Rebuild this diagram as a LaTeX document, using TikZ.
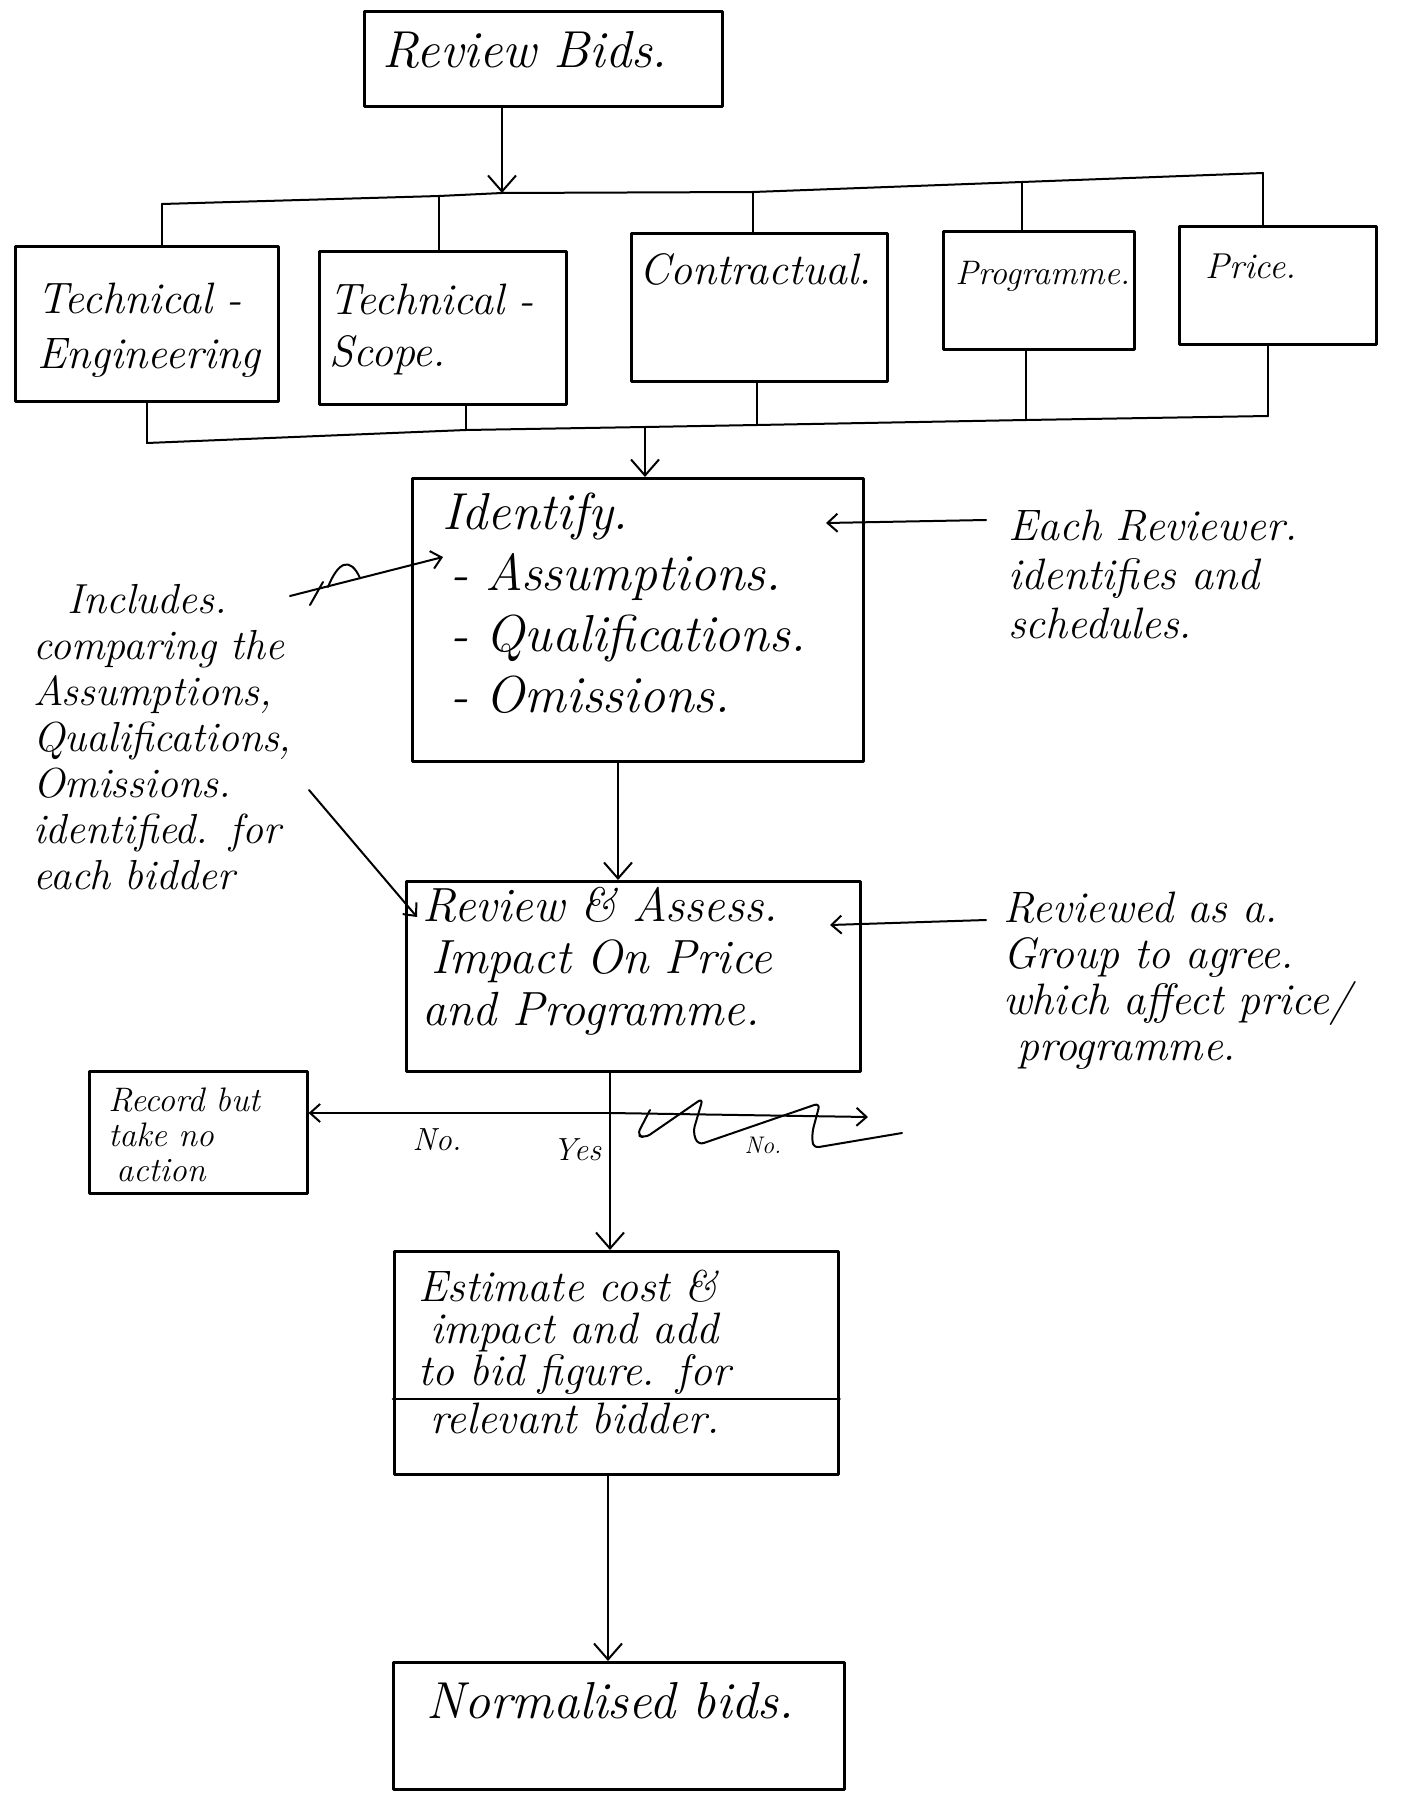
\documentclass[tikz,border=0pt]{standalone}
\usetikzlibrary{arrows.meta}
\newcommand\handfont[2]{\fontsize{#1}{#2}\selectfont\itshape}
\begin{document}
\begin{tikzpicture}[x=1pt,y=-1pt,line cap=round,line join=round,
  box/.style={draw, line width=2.6pt, anchor=north west, align=left, inner ysep=4pt},
  note/.style={anchor=north west, align=left, inner sep=0pt, text height=40pt},
  conn/.style={line width=2pt},
  arr/.style={conn, -{Straight Barb[length=16pt,width=28pt,line width=2pt]}},
  arrs/.style={conn, -{Straight Barb[length=10pt,width=18pt,line width=2pt]}},
  lbl/.style={inner sep=0pt}]
\useasboundingbox[fill=white] (0,0) rectangle (1405,1795);

% boxes
\node[box, inner xsep=18pt, text width=322pt, text height=52pt, text depth=35pt, font=\handfont{52}{60}] (rb) at (363,10) {\mbox{Review Bids.}};
\node[box, inner xsep=22pt, text width=219pt, text height=63pt, text depth=84pt, font=\handfont{44}{55}] (te) at (14,245) {\mbox{Technical -}\\\mbox{Engineering}};
\node[box, inner xsep=10pt, text width=227pt, text height=59pt, text depth=86pt, font=\handfont{44}{52}] (ts) at (318,250) {\mbox{Technical -}\\\mbox{Scope.}};
\node[box, inner xsep=8pt, text width=240pt, text height=47pt, text depth=93pt, font=\handfont{44}{50}] (ct) at (630,232) {\mbox{Contractual.}};
\node[box, inner xsep=12pt, text width=167pt, text height=49pt, text depth=61pt, font=\handfont{34}{40}] (pg) at (942,230) {\mbox{Programme.}};
\node[box, inner xsep=26pt, text width=145pt, text height=48pt, text depth=62pt, font=\handfont{36}{40}] (pr) at (1178,225) {\mbox{Price.}};
\node[box, inner xsep=30pt, text width=391pt, text height=47pt, text depth=228pt, font=\handfont{52}{61}] (id) at (411,477)
  {\mbox{Identify.}\\\hspace*{8pt}\mbox{- Assumptions.}\\\hspace*{8pt}\mbox{- Qualifications.}\\\hspace*{8pt}\mbox{- Omissions.}};
\node[box, inner xsep=16pt, text width=422pt, text height=36pt, text depth=146pt, font=\handfont{48}{52}] (ra) at (405,880)
  {\mbox{Review \& Assess.}\\\hspace*{9pt}\mbox{Impact On Price}\\\mbox{and Programme.}};
\node[box, inner xsep=19pt, text width=180pt, text height=36pt, text depth=78pt, font=\handfont{34}{35}] (rec) at (88,1070)
  {\mbox{Record but}\\\mbox{take no}\\\hspace*{8pt}\mbox{action}};
\node[box, inner xsep=24pt, text width=396pt, text height=46pt, text depth=169pt, font=\handfont{44}{42}] (est) at (393,1250)
  {\mbox{Estimate cost \&}\\\hspace*{12pt}\mbox{impact and add}\\\mbox{to bid figure. for}\\[6pt]\hspace*{12pt}\mbox{relevant bidder.}};
\node[box, inner xsep=33pt, text width=385pt, text height=52pt, text depth=67pt, font=\handfont{52}{60}] (nb) at (392,1661) {\mbox{Normalised bids.}};
\coordinate (dv) at (0,1399);
\draw[line width=2.6pt] (est.west |- dv) -- (est.east |- dv);

% notes
\node[note, text width=380pt, font=\handfont{44}{49}] (each) at (1008,500) {\mbox{Each Reviewer.}\\\mbox{identifies and}\\\mbox{schedules.}};
\node[note, text width=330pt, font=\handfont{42}{46}] (inc) at (33,573)
  {\hspace*{34pt}\mbox{Includes.}\\\mbox{comparing the}\\\mbox{Assumptions,}\\\mbox{Qualifications,}\\\mbox{Omissions.}\\\mbox{identified. for}\\\mbox{each bidder}};
\node[note, text width=395pt, font=\handfont{44}{46}] (rev) at (1003,882)
  {\mbox{Reviewed as a.}\\\mbox{Group to agree.}\\\mbox{which affect price/}\\\hspace*{14pt}\mbox{programme.}};
\node[lbl, font=\handfont{32}{36}] (nolbl) at (437,1140) {No.};
\node[lbl, font=\handfont{32}{36}] (yeslbl) at (577,1150) {Yes};
\node[lbl, font=\handfont{24}{28}] (no2) at (763,1145) {No.};

% top bus
\coordinate (T1) at (162,204);
\coordinate (T2) at (439,196);
\coordinate (T3) at (502,193);
\coordinate (T4) at (753,192);
\coordinate (T5) at (1022,182);
\coordinate (T6) at (1263,173);
\draw[conn] (T1) -- (T2) -- (T3) -- (T4) -- (T5) -- (T6);
\draw[arr] (rb.south -| T3) -- (T3);
\foreach \t/\n in {T1/te,T2/ts,T4/ct,T5/pg,T6/pr} \draw[conn] (\t) -- (\t |- \n.north);

% bottom bus
\coordinate (B1) at (147,443);
\coordinate (B2) at (466,430);
\coordinate (B3) at (645,427);
\coordinate (B4) at (757,425);
\coordinate (B5) at (1026,420);
\coordinate (B6) at (1268,416);
\draw[conn] (B1) -- (B2) -- (B3) -- (B4) -- (B5) -- (B6);
\foreach \t/\n in {B1/te,B2/ts,B4/ct,B5/pg,B6/pr} \draw[conn] (\n.south -| \t) -- (\t);
\draw[arr] (B3) -- (B3 |- id.north);

% main flow
\coordinate (c1) at (618,0);
\coordinate (c2) at (610,0);
\coordinate (c3) at (608,0);
\draw[arr] (id.south -| c1) -- (ra.north -| c1);
\draw[arr] (ra.south -| c2) -- (est.north -| c2);
\draw[arr] (est.south -| c3) -- (nb.north -| c3);
\coordinate (J) at (610,1113);
\draw[arrs] (J) -- (J -| rec.east);
\coordinate (X) at (868,1117);
\draw[arrs] (J) -- (X);
\draw[conn, rounded corners=6pt] (650,1110) -- (637,1135) -- (645,1138) -- (703,1098) -- (693,1132) -- (698,1145) -- (820,1103) -- (812,1133) -- (813,1148) -- (902,1133);

% annotation arrows
\coordinate (eA) at (986,520);
\coordinate (eB) at (826,523);
\draw[arrs] (eA) -- (eB);
\coordinate (rA) at (986,920);
\coordinate (rB) at (830,925);
\draw[arrs] (rA) -- (rB);
\coordinate (iA) at (290,596);
\coordinate (iB) at (443,557);
\draw[arrs] (iA) -- (iB);
\draw[conn] (328,587) .. controls (338,562) and (350,556) .. (360,578);
\draw[conn] (310,605) -- (323,582);
\coordinate (iC) at (309,790);
\coordinate (iD) at (417,917);
\draw[arrs] (iC) -- (iD);
\end{tikzpicture}
\end{document}
